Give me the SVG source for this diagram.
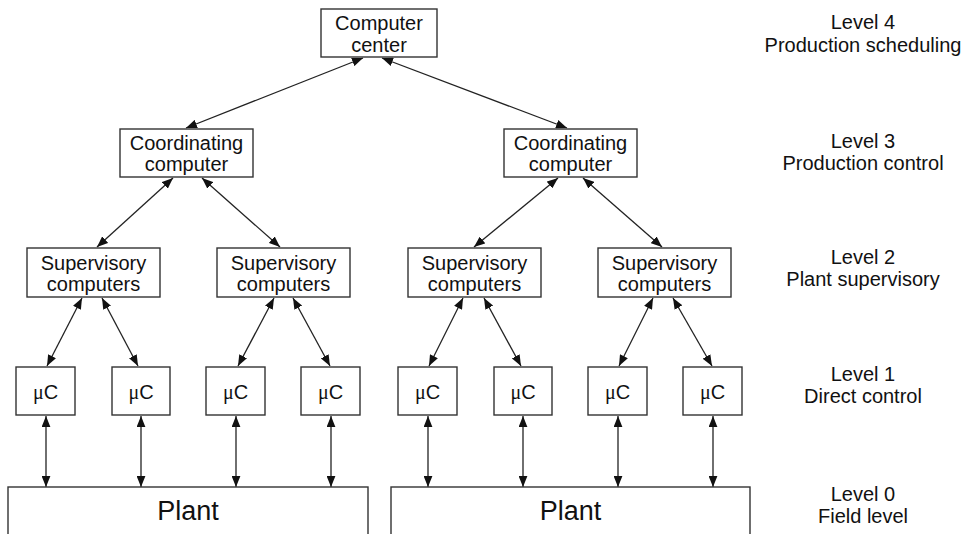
<svg xmlns="http://www.w3.org/2000/svg" width="967" height="534" viewBox="0 0 967 534">
  <style>
    .box { fill: #fff; stroke: #333; stroke-width: 1.4; }
    .lbl { font-family: "Liberation Sans", Arial, sans-serif; font-size: 20px; fill: #111; text-anchor: middle; }
    .big { font-size: 27px; }
    .mu { font-family: "Liberation Serif", "Times New Roman", serif; }
    .link { stroke: #222; stroke-width: 1.3; fill: none; marker-start: url(#head); marker-end: url(#head); }
  </style>
  <defs>
    <marker id="head" viewBox="0 0 10 8" refX="10" refY="4" markerWidth="11" markerHeight="9" markerUnits="userSpaceOnUse" orient="auto-start-reverse">
      <path d="M0,0 L10,4 L0,8 z" fill="#111"/>
    </marker>
  </defs>
  <rect width="967" height="534" fill="#fff"/>

  <!-- connectors -->
  <g id="connectors">
    <!-- level 4 to level 3 -->
    <line class="link" x1="363" y1="58" x2="186" y2="128"/>
    <line class="link" x1="382" y1="58" x2="567" y2="128"/>
    <!-- level 3 to level 2 -->
    <line class="link" x1="173" y1="178" x2="97" y2="247"/>
    <line class="link" x1="202" y1="178" x2="280" y2="247"/>
    <line class="link" x1="558" y1="178" x2="474" y2="247"/>
    <line class="link" x1="583" y1="178" x2="662" y2="247"/>
    <!-- level 2 to level 1 -->
    <line class="link" x1="82" y1="298" x2="47" y2="366"/>
    <line class="link" x1="102" y1="298" x2="138" y2="366"/>
    <line class="link" x1="274" y1="298" x2="238" y2="366"/>
    <line class="link" x1="293" y1="298" x2="330" y2="366"/>
    <line class="link" x1="463" y1="298" x2="429" y2="366"/>
    <line class="link" x1="484" y1="298" x2="521" y2="366"/>
    <line class="link" x1="653" y1="298" x2="619" y2="366"/>
    <line class="link" x1="673" y1="298" x2="712" y2="366"/>
    <!-- level 1 to plant -->
    <line class="link" x1="46" y1="416" x2="46" y2="487"/>
    <line class="link" x1="141" y1="416" x2="141" y2="487"/>
    <line class="link" x1="236" y1="416" x2="236" y2="487"/>
    <line class="link" x1="331" y1="416" x2="331" y2="487"/>
    <line class="link" x1="428" y1="416" x2="428" y2="487"/>
    <line class="link" x1="523" y1="416" x2="523" y2="487"/>
    <line class="link" x1="618" y1="416" x2="618" y2="487"/>
    <line class="link" x1="713" y1="416" x2="713" y2="487"/>
  </g>

  <!-- level 4 -->
  <g id="computer-center">
    <rect class="box" x="321" y="9" width="116" height="48"/>
    <text class="lbl" x="379" y="30">Computer</text>
    <text class="lbl" x="379" y="52">center</text>
  </g>

  <!-- level 3 -->
  <g id="coord-left">
    <rect class="box" x="120" y="129" width="133" height="48"/>
    <text class="lbl" x="186.5" y="150">Coordinating</text>
    <text class="lbl" x="186.5" y="171">computer</text>
  </g>
  <g id="coord-right">
    <rect class="box" x="504" y="129" width="133" height="48"/>
    <text class="lbl" x="570.5" y="150">Coordinating</text>
    <text class="lbl" x="570.5" y="171">computer</text>
  </g>

  <!-- level 2 -->
  <g id="sup-1">
    <rect class="box" x="27" y="248" width="133" height="49"/>
    <text class="lbl" x="93.5" y="270">Supervisory</text>
    <text class="lbl" x="93.5" y="291">computers</text>
  </g>
  <g id="sup-2">
    <rect class="box" x="217" y="248" width="133" height="49"/>
    <text class="lbl" x="283.5" y="270">Supervisory</text>
    <text class="lbl" x="283.5" y="291">computers</text>
  </g>
  <g id="sup-3">
    <rect class="box" x="408" y="248" width="133" height="49"/>
    <text class="lbl" x="474.5" y="270">Supervisory</text>
    <text class="lbl" x="474.5" y="291">computers</text>
  </g>
  <g id="sup-4">
    <rect class="box" x="598" y="248" width="133" height="49"/>
    <text class="lbl" x="664.5" y="270">Supervisory</text>
    <text class="lbl" x="664.5" y="291">computers</text>
  </g>

  <!-- level 1 -->
  <g id="uc-1"><rect class="box" x="16" y="367" width="59" height="48"/><text class="lbl" x="45.5" y="399"><tspan class="mu">μ</tspan>C</text></g>
  <g id="uc-2"><rect class="box" x="112" y="367" width="58" height="48"/><text class="lbl" x="141" y="399"><tspan class="mu">μ</tspan>C</text></g>
  <g id="uc-3"><rect class="box" x="206" y="367" width="59" height="48"/><text class="lbl" x="235.5" y="399"><tspan class="mu">μ</tspan>C</text></g>
  <g id="uc-4"><rect class="box" x="301" y="367" width="59" height="48"/><text class="lbl" x="330.5" y="399"><tspan class="mu">μ</tspan>C</text></g>
  <g id="uc-5"><rect class="box" x="398" y="367" width="59" height="48"/><text class="lbl" x="427.5" y="399"><tspan class="mu">μ</tspan>C</text></g>
  <g id="uc-6"><rect class="box" x="494" y="367" width="58" height="48"/><text class="lbl" x="523" y="399"><tspan class="mu">μ</tspan>C</text></g>
  <g id="uc-7"><rect class="box" x="588" y="367" width="59" height="48"/><text class="lbl" x="617.5" y="399"><tspan class="mu">μ</tspan>C</text></g>
  <g id="uc-8"><rect class="box" x="683" y="367" width="59" height="48"/><text class="lbl" x="712.5" y="399"><tspan class="mu">μ</tspan>C</text></g>

  <!-- level 0 -->
  <g id="plant-left">
    <rect class="box" x="8" y="487" width="360" height="60"/>
    <text class="lbl big" x="188" y="520">Plant</text>
  </g>
  <g id="plant-right">
    <rect class="box" x="391" y="487" width="359" height="60"/>
    <text class="lbl big" x="570.5" y="520">Plant</text>
  </g>

  <!-- level captions -->
  <g id="levels">
    <text class="lbl" x="863" y="29">Level 4</text>
    <text class="lbl" x="863" y="52">Production scheduling</text>
    <text class="lbl" x="863" y="148">Level 3</text>
    <text class="lbl" x="863" y="170">Production control</text>
    <text class="lbl" x="863" y="264">Level 2</text>
    <text class="lbl" x="863" y="286">Plant supervisory</text>
    <text class="lbl" x="863" y="381">Level 1</text>
    <text class="lbl" x="863" y="403">Direct control</text>
    <text class="lbl" x="863" y="501">Level 0</text>
    <text class="lbl" x="863" y="523">Field level</text>
  </g>
</svg>
